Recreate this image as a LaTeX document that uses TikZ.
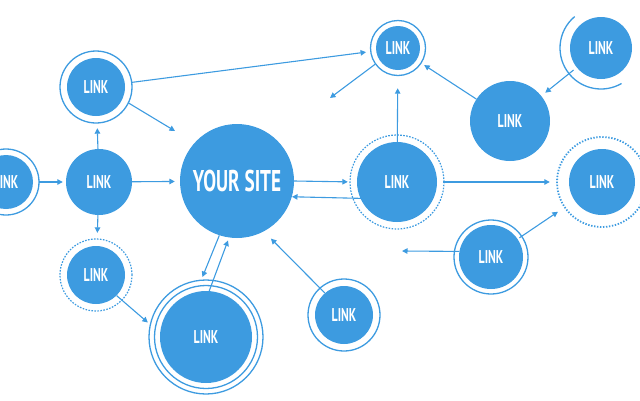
\documentclass[tikz,border=0pt]{standalone}
\usepackage{fontspec}
\usepackage{tikz}
\usetikzlibrary{arrows.meta}
\newfontfamily\linkfont{PT Sans}[FakeStretch=0.64]
\definecolor{netblue}{RGB}{61,155,224}

\begin{document}
\begin{tikzpicture}[x=1pt,y=-1pt,
        dot/.style={circle, fill=netblue, draw=none, inner sep=0pt,
                text=white, font=\linkfont\bfseries\fontsize{18.5}{18.5}\selectfont},
        ring/.style={draw=netblue, line width=1.3pt},
        dashring/.style={draw=netblue, line width=1.2pt, dash pattern=on 1.6pt off 1.4pt},
        link/.style={draw=netblue, line width=1.1pt, -{Triangle[length=5.5pt,width=5.5pt]}}]
        \useasboundingbox (0,0) rectangle (640,400);
        \node[dot, minimum size=114pt, font=\linkfont\bfseries\fontsize{30}{30}\selectfont] (site) at (237,181) {YOUR SITE};
        \node[dot, minimum size=54pt] (lkEdge) at (6,182) {LINK};
        \node[dot, minimum size=66pt] (lkMid) at (99,182) {LINK};
        \node[dot, minimum size=58pt] (lkTop) at (96,87) {LINK};
        \node[dot, minimum size=58pt] (lkDash) at (96,275) {LINK};
        \node[dot, minimum size=92pt] (lkBig) at (206,337) {LINK};
        \node[dot, minimum size=58pt] (lkLow) at (344,315) {LINK};
        \node[dot, minimum size=44pt] (lkUp) at (398,48) {LINK};
        \node[dot, minimum size=62pt] (lkCorner) at (601,48) {LINK};
        \node[dot, minimum size=80pt] (lkRU) at (510,121) {LINK};
        \node[dot, minimum size=80pt] (lkCR) at (397,182) {LINK};
        \node[dot, minimum size=66pt] (lkFar) at (602,182) {LINK};
        \node[dot, minimum size=64pt] (lkLR) at (491,257) {LINK};
        \draw[ring] (lkEdge) circle (33pt);
        \draw[ring] (lkTop) circle (36pt);
        \draw[dashring] (lkDash) circle (36pt);
        \draw[ring] (lkBig) circle (51.5pt);
        \draw[ring] (lkBig) circle (57pt);
        \draw[ring] (lkLow) circle (36pt);
        \draw[ring] (lkUp) circle (27.5pt);
        \draw[ring] ([shift={(130:41pt)}]lkCorner.center) arc (130:300:41pt);
        \draw[dashring] (lkCR) circle (47pt);
        \draw[dashring, line width=1.8pt, dash pattern=on 1.4pt off 1.6pt] (lkFar) circle (45pt);
        \draw[ring] (lkLR) circle (37pt);
        \coordinate (topFree) at (175,131);
        \coordinate (upFree) at (330,98);
        \coordinate (lrFree) at (402,251);
        \draw[link, shorten <=6pt, shorten >=3pt] (lkEdge) -- (lkMid);
        \draw[link, shorten >=5pt] (lkMid) -- (site);
        \draw[link, shorten >=12pt] (lkMid) -- (lkTop);
        \draw[link, shorten >=13pt] (lkMid) -- (lkDash);
        \draw[link, shorten <=7pt] (lkTop.-25) -- (topFree);
        \draw[link, shorten <=7pt, shorten >=10pt] (lkTop) -- (lkUp);
        \draw[link, shorten <=6pt] (lkUp.-145) -- (upFree);
        \draw[link, shorten >=18pt] (lkCR) -- (lkUp);
        \draw[link, shorten >=9pt] (lkRU) -- (lkUp);
        \draw[link, shorten <=4pt, shorten >=5pt] (lkCorner) -- (lkRU);
        \draw[link, shorten >=9pt] (site.east) -- (lkCR.west);
        \draw[link, shorten <=-10pt] (lkCR.204) -- (site.-16);
        \draw[link, shorten <=6pt, shorten >=19pt] (lkCR) -- (lkFar);
        \draw[link, shorten <=2pt, shorten >=20pt] (lkLR) -- (lkFar);
        \draw[link] (lkLR.170) -- (lrFree);
        \draw[link, shorten >=16pt] (site.-108) -- (lkBig.102);
        \draw[link, shorten >=3pt] (lkBig.86) -- (site.-98);
        \draw[link, shorten >=16pt] (lkDash.-45) -- (lkBig.175);
        \draw[link, shorten >=10pt] (lkLow.131) -- (site.-62);
\end{tikzpicture}
\end{document}
